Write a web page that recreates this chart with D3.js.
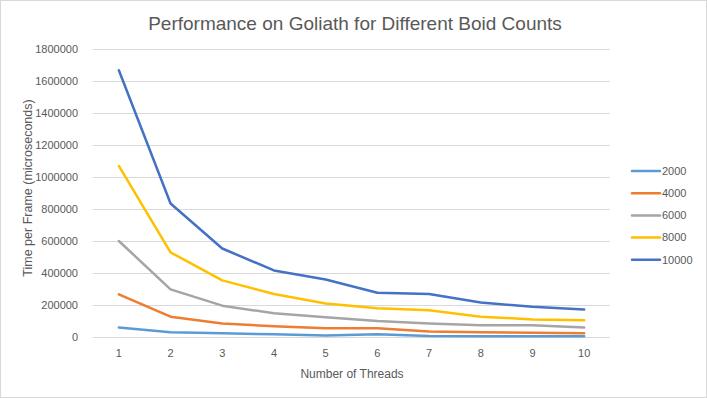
<!DOCTYPE html>
<html>
<head>
<meta charset="utf-8">
<script src="https://cdn.jsdelivr.net/npm/d3@7"></script>
<style>
  body { margin: 0; background: #fff; }
  svg { display: block; font-family: 'Liberation Sans', Arial, sans-serif; }
</style>
</head>
<body>
<svg id="chart" width="707" height="398"></svg>
<script>
const threads = [1, 2, 3, 4, 5, 6, 7, 8, 9, 10]
const boidCounts = ['2000', '4000', '6000', '8000', '10000']
const yTicks = [0, 200000, 400000, 600000, 800000, 1000000, 1200000, 1400000, 1600000, 1800000]

const s2000 = [60000, 29000, 23000, 17000, 10000, 17000, 6000, 5000, 5000, 5000]
const s4000 = [267000, 127000, 85000, 67000, 54000, 54000, 35000, 29000, 27000, 23000]
const s6000 = [600000, 298000, 196000, 148000, 123000, 100000, 85000, 73000, 73000, 60000]
const s8000 = [1069000, 529000, 354000, 269000, 210000, 179000, 167000, 127000, 110000, 104000]
const s10000 = [1667000, 834000, 553000, 416000, 359000, 277000, 269000, 215000, 189000, 172000]

const seriesValues = [s2000, s4000, s6000, s8000, s10000]
const colors = ['#5B9BD5', '#ED7D31', '#A5A5A5', '#FFC000', '#4472C4']

const width = 707
const height = 398
const margin = { top: 49, right: 97, bottom: 61, left: 93 }

const svg = d3.select('#chart')

// outer chart border
svg.append('rect')
  .attr('x', 0.5).attr('y', 0.5)
  .attr('width', width - 1).attr('height', height - 1)
  .attr('fill', '#fff')
  .attr('stroke', '#d9d9d9')

const x = d3.scaleBand()
  .domain(threads)
  .range([margin.left, width - margin.right])

const y = d3.scaleLinear()
  .domain([0, 1800000])
  .range([height - margin.bottom, margin.top])

// gridlines
svg.append('g')
  .selectAll('line')
  .data(yTicks)
  .enter()
  .append('line')
  .attr('x1', margin.left)
  .attr('x2', width - margin.right)
  .attr('y1', (d) => Math.round(y(d)) + 0.5)
  .attr('y2', (d) => Math.round(y(d)) + 0.5)
  .attr('stroke', '#d9d9d9')
  .attr('stroke-width', 1)

// y axis labels
const yAxis = svg.append('g')
  .attr('transform', `translate(${margin.left - 12},0)`)
  .call(d3.axisLeft(y).tickValues(yTicks).tickSize(0).tickFormat(d3.format('d')))
yAxis.select('.domain').remove()
yAxis.selectAll('text')
  .attr('fill', '#595959')
  .attr('font-size', '11px')
  .attr('dx', 0)

// x axis labels
const xAxis = svg.append('g')
  .attr('transform', `translate(0,${height - margin.bottom})`)
  .call(d3.axisBottom(x).tickSize(0))
xAxis.select('.domain').remove()
xAxis.selectAll('text')
  .attr('fill', '#595959')
  .attr('font-size', '11px')
  .attr('dy', '1.55em')

// lines
const line = d3.line()
  .x((d, i) => x(threads[i]) + x.bandwidth() / 2)
  .y((d) => y(d))

svg.append('g')
  .selectAll('path')
  .data(seriesValues)
  .enter()
  .append('path')
  .attr('d', line)
  .attr('fill', 'none')
  .attr('stroke', (d, i) => colors[i])
  .attr('stroke-width', 2.5)
  .attr('stroke-linejoin', 'round')
  .attr('stroke-linecap', 'round')

// title
svg.append('text')
  .attr('x', 355)
  .attr('y', 30)
  .attr('text-anchor', 'middle')
  .attr('font-size', '19px')
  .attr('fill', '#595959')
  .text('Performance on Goliath for Different Boid Counts')

// axis titles
svg.append('text')
  .attr('transform', 'translate(32,188) rotate(-90)')
  .attr('text-anchor', 'middle')
  .attr('font-size', '12.5px')
  .attr('fill', '#595959')
  .text('Time per Frame (microseconds)')

svg.append('text')
  .attr('x', 352)
  .attr('y', 378)
  .attr('text-anchor', 'middle')
  .attr('font-size', '12px')
  .attr('fill', '#595959')
  .text('Number of Threads')

// legend
const legend = svg.append('g')
  .selectAll('g')
  .data(boidCounts)
  .enter()
  .append('g')
  .attr('transform', (d, i) => `translate(632,${171 + i * 22.2})`)

legend.append('line')
  .attr('x1', 0).attr('x2', 28)
  .attr('stroke', (d, i) => colors[i])
  .attr('stroke-width', 2.5)
  .attr('stroke-linecap', 'round')

legend.append('text')
  .attr('x', 30)
  .attr('dy', '0.35em')
  .attr('font-size', '11px')
  .attr('fill', '#595959')
  .text((d) => d)
</script>
</body>
</html>
